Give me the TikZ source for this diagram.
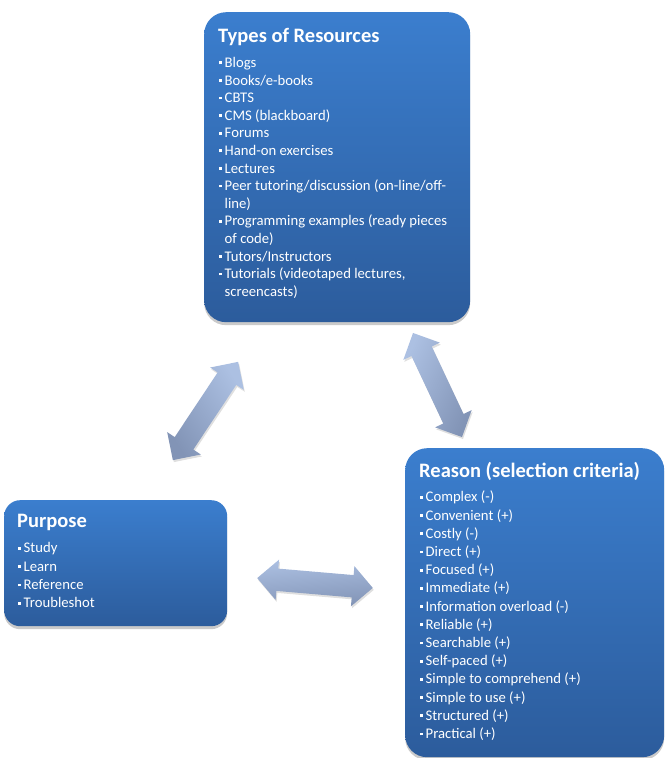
\documentclass[tikz,border=0pt]{standalone}
\usepackage{fontspec}
\setmainfont{Carlito}
\usetikzlibrary{shapes.arrows,shadows,calc}
\definecolor{boxtop}{RGB}{59,126,206}
\definecolor{boxbot}{RGB}{44,92,156}
\definecolor{arrtop}{RGB}{172,192,226}
\definecolor{arrbot}{RGB}{130,148,182}
\newcommand\bul{\rule[3.2pt]{2.8pt}{2.8pt}\hspace{3.2pt}}
\newcommand\cont{\hspace{6pt}}
\tikzset{
  panel/.style={draw=none, rounded corners=22pt, top color=boxtop, bottom color=boxbot,
    anchor=north west, inner sep=0pt,
    drop shadow={shadow xshift=0pt, shadow yshift=-3pt, opacity=0.35, fill=black!60}},
  ptitle/.style={text=white, font=\fontsize{20.5}{22}\selectfont\bfseries, anchor=base west, inner sep=0pt},
  pitem/.style={text=white, font=\fontsize{14.7}{17}\selectfont, anchor=base west, inner sep=0pt},
  dblarrow/.style={double arrow, draw=none, inner sep=11pt, minimum width=40pt,
    double arrow head extend=9pt, double arrow tip angle=90,
    drop shadow={shadow xshift=1pt, shadow yshift=-2pt, opacity=0.25, fill=black!50}}
}
\begin{document}
\begin{tikzpicture}[x=1pt,y=1pt]
\useasboundingbox (0,0) rectangle (665,758);
% boxes
\node[panel, minimum width=266pt, minimum height=310pt] (res) at (204,746) {};
\node[panel, minimum width=259pt, minimum height=309pt] (rea) at (405,310) {};
\node[panel, minimum width=223pt, minimum height=126pt, rounded corners=16pt] (pur) at (4,258) {};
% arrows
\node[dblarrow, minimum height=118pt, rotate=56.4,
  top color=arrtop, bottom color=arrbot, shading angle=-56.4] (a1) at (205.5,347) {};
\node[dblarrow, minimum height=115pt, rotate=-64.8,
  top color=arrtop, bottom color=arrbot, shading angle=64.8] (a2) at (437.5,373) {};
\node[dblarrow, minimum height=116pt, rotate=-4.9,
  top color=arrtop, bottom color=arrbot, shading angle=4.9] (a3) at (315,175) {};
% texts: resources
\node[ptitle] (rest) at (218,715) {Types of Resources};
\foreach \t [count=\i] in {{\bul Blogs},{\bul Books/e-books},{\bul CBTS},{\bul CMS (blackboard)},
  {\bul Forums},{\bul Hand-on exercises},{\bul Lectures},
  {\bul Peer tutoring/discussion (on-line/off-},{\cont line)},
  {\bul Programming examples (ready pieces},{\cont of code)},
  {\bul Tutors/Instructors},{\bul Tutorials (videotaped lectures,},{\cont screencasts)}}
  \node[pitem] (res-\i) at (218.5,{690.5-(\i-1)*17.6}) {\t};
% texts: reason
\node[ptitle] (reat) at (419,280) {Reason (selection criteria)};
\foreach \t [count=\i] in {{\bul Complex (-)},{\bul Convenient (+)},{\bul Costly (-)},
  {\bul Direct (+)},{\bul Focused (+)},{\bul Immediate (+)},{\bul Information overload (-)},
  {\bul Reliable (+)},{\bul Searchable (+)},{\bul Self-paced (+)},
  {\bul Simple to comprehend (+)},{\bul Simple to use (+)},{\bul Structured (+)},
  {\bul Practical (+)}}
  \node[pitem] (rea-\i) at (419.5,{256-(\i-1)*18.2}) {\t};
% texts: purpose
\node[ptitle] (purt) at (17,230) {Purpose};
\foreach \t [count=\i] in {{\bul Study},{\bul Learn},{\bul Reference},{\bul Troubleshot}}
  \node[pitem] (pur-\i) at (17.5,{205-(\i-1)*18.3}) {\t};
\end{tikzpicture}
\end{document}
